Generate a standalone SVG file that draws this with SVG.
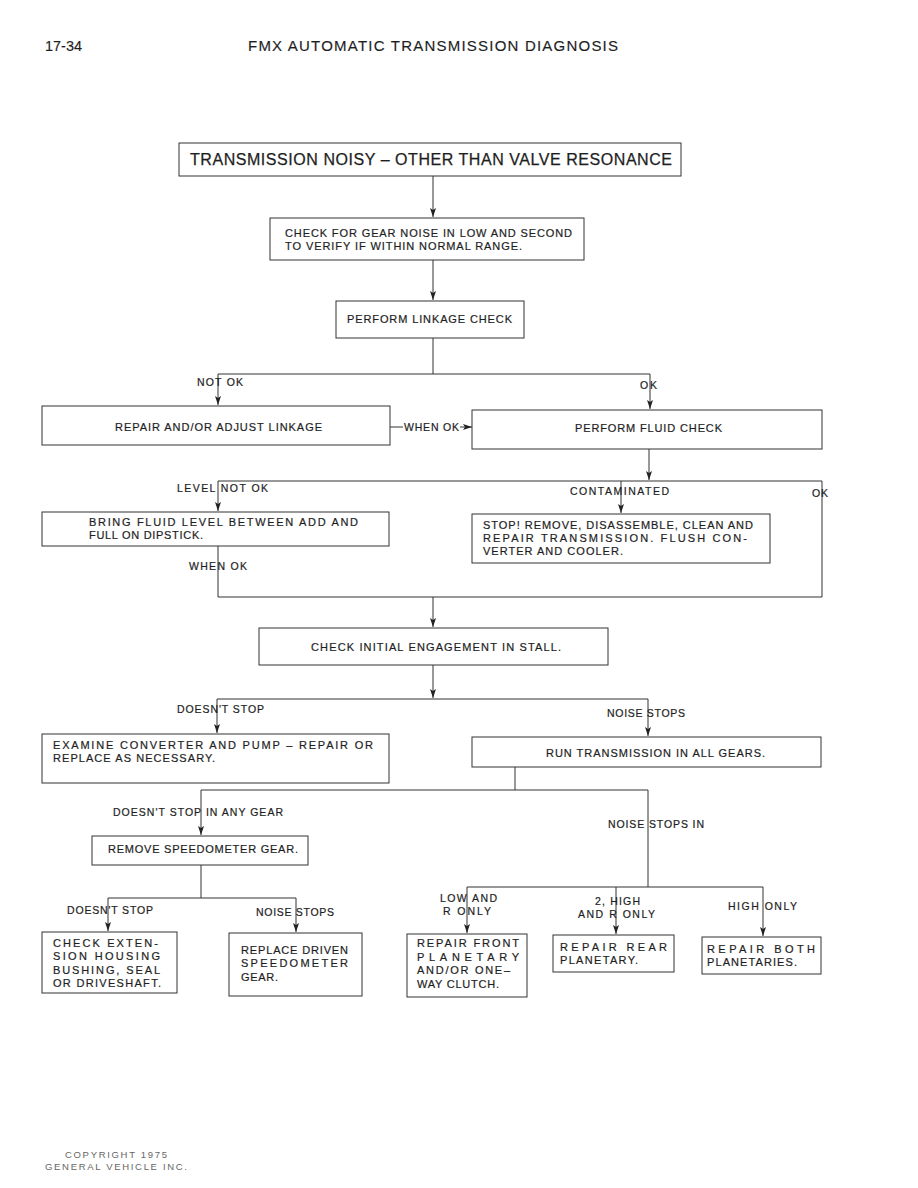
<svg xmlns="http://www.w3.org/2000/svg" width="918" height="1188" viewBox="0 0 918 1188">
<style>
text{font-family:"Liberation Sans",Arial,sans-serif;fill:#1e1e1e;stroke:#1e1e1e;stroke-width:0.2}
.hd{font-size:15px;stroke-width:0.15}
.ti{font-size:16px;stroke-width:0.25}
.bx{font-size:11px}
.lb{font-size:10.5px}
.cp{font-size:9.5px;fill:#666;stroke:none}
rect{fill:#fff;stroke:#333;stroke-width:1}
.c path,.c line{fill:none;stroke:#333;stroke-width:1}
</style>
<defs>
<marker id="ah" markerUnits="userSpaceOnUse" markerWidth="9" markerHeight="8" viewBox="0 0 9 8" refX="9" refY="4" orient="auto">
<path d="M0,1 L9,4 L0,7 L2,4 z" fill="#222"/>
</marker>
</defs>
<rect x="0" y="0" width="918" height="1188" style="stroke:none;fill:#fff"/>
<g id="header">
<text class="hd" x="45" y="51" textLength="37" lengthAdjust="spacingAndGlyphs">17-34</text>
<text class="hd" x="248" y="51" textLength="370" lengthAdjust="spacing">FMX AUTOMATIC TRANSMISSION DIAGNOSIS</text>
</g>
<g class="c" id="connectors">
<line x1="433" y1="176" x2="433" y2="217" marker-end="url(#ah)"/>
<line x1="433" y1="260" x2="433" y2="300" marker-end="url(#ah)"/>
<path d="M433,338 V374 M218,374 H650"/>
<line x1="218" y1="374" x2="218" y2="405" marker-end="url(#ah)"/>
<line x1="650" y1="374" x2="650" y2="409" marker-end="url(#ah)"/>
<line x1="390" y1="427" x2="403" y2="427"/>
<line x1="460" y1="427" x2="472" y2="427" marker-end="url(#ah)"/>
<line x1="649" y1="449" x2="649" y2="480" marker-end="url(#ah)"/>
<path d="M218,481 H822 V597 H218 V546"/>
<line x1="218" y1="481" x2="218" y2="511" marker-end="url(#ah)"/>
<line x1="621" y1="481" x2="621" y2="513" marker-end="url(#ah)"/>
<line x1="433" y1="597" x2="433" y2="627" marker-end="url(#ah)"/>
<line x1="433" y1="665" x2="433" y2="698" marker-end="url(#ah)"/>
<path d="M217,699 H648"/>
<line x1="217" y1="699" x2="217" y2="733" marker-end="url(#ah)"/>
<line x1="648" y1="699" x2="648" y2="736" marker-end="url(#ah)"/>
<path d="M515,767 V790 M201,790 H648 V887 M467,887 H763"/>
<line x1="201" y1="790" x2="201" y2="835" marker-end="url(#ah)"/>
<path d="M201,865 V898 M108,898 H296"/>
<line x1="108" y1="898" x2="108" y2="931" marker-end="url(#ah)"/>
<line x1="296" y1="898" x2="296" y2="932" marker-end="url(#ah)"/>
<line x1="467" y1="887" x2="467" y2="933" marker-end="url(#ah)"/>
<line x1="616" y1="887" x2="616" y2="934" marker-end="url(#ah)"/>
<line x1="763" y1="887" x2="763" y2="936" marker-end="url(#ah)"/>
</g>
<g id="labels">
<text class="lb" x="197" y="386" textLength="46" lengthAdjust="spacing">NOT OK</text>
<text class="lb" x="640" y="389" textLength="17" lengthAdjust="spacing">OK</text>
<text class="lb" x="404" y="431" textLength="55" lengthAdjust="spacing">WHEN OK</text>
<text class="lb" x="177" y="492" textLength="91" lengthAdjust="spacing">LEVEL NOT OK</text>
<text class="lb" x="570" y="495" textLength="99" lengthAdjust="spacing">CONTAMINATED</text>
<text class="lb" x="812" y="497" textLength="16" lengthAdjust="spacing">OK</text>
<text class="lb" x="189" y="570" textLength="58" lengthAdjust="spacing">WHEN OK</text>
<text class="lb" x="177" y="713" textLength="87" lengthAdjust="spacing">DOESN'T STOP</text>
<text class="lb" x="607" y="717" textLength="78" lengthAdjust="spacing">NOISE STOPS</text>
<text class="lb" x="113" y="816" textLength="170" lengthAdjust="spacing">DOESN'T STOP IN ANY GEAR</text>
<text class="lb" x="608" y="828" textLength="96" lengthAdjust="spacing">NOISE STOPS IN</text>
<text class="lb" x="67" y="914" textLength="86" lengthAdjust="spacing">DOESN'T STOP</text>
<text class="lb" x="256" y="916" textLength="78" lengthAdjust="spacing">NOISE STOPS</text>
<text class="lb" x="440" y="902" textLength="57" lengthAdjust="spacing">LOW AND</text>
<text class="lb" x="443" y="915" textLength="48" lengthAdjust="spacing">R ONLY</text>
<text class="lb" x="595" y="905" textLength="45" lengthAdjust="spacing">2, HIGH</text>
<text class="lb" x="578" y="918" textLength="77" lengthAdjust="spacing">AND R ONLY</text>
<text class="lb" x="728" y="910" textLength="69" lengthAdjust="spacing">HIGH ONLY</text>
</g>
<g id="n1"><rect x="179" y="143" width="502" height="33"/>
<text class="ti" x="190" y="165" textLength="482" lengthAdjust="spacing">TRANSMISSION NOISY – OTHER THAN VALVE RESONANCE</text></g>
<g id="n2"><rect x="270" y="218" width="314" height="42"/>
<text class="bx" x="285" y="237" textLength="287" lengthAdjust="spacing">CHECK FOR GEAR NOISE IN LOW AND SECOND</text>
<text class="bx" x="285" y="250" textLength="237" lengthAdjust="spacing">TO VERIFY IF WITHIN NORMAL RANGE.</text></g>
<g id="n3"><rect x="336" y="301" width="188" height="37"/>
<text class="bx" x="347" y="323" textLength="165" lengthAdjust="spacing">PERFORM LINKAGE CHECK</text></g>
<g id="n4"><rect x="42" y="406" width="348" height="39"/>
<text class="bx" x="115" y="431" textLength="207" lengthAdjust="spacing">REPAIR AND/OR ADJUST LINKAGE</text></g>
<g id="n5"><rect x="472" y="410" width="350" height="39"/>
<text class="bx" x="575" y="432" textLength="147" lengthAdjust="spacing">PERFORM FLUID CHECK</text></g>
<g id="n6"><rect x="42" y="512" width="347" height="34"/>
<text class="bx" x="89" y="526" textLength="269" lengthAdjust="spacing">BRING FLUID LEVEL BETWEEN ADD AND</text>
<text class="bx" x="89" y="539" textLength="114" lengthAdjust="spacing">FULL ON DIPSTICK.</text></g>
<g id="n7"><rect x="472" y="514" width="298" height="49"/>
<text class="bx" x="483" y="529" textLength="270" lengthAdjust="spacing">STOP! REMOVE, DISASSEMBLE, CLEAN AND</text>
<text class="bx" x="483" y="542" textLength="264" lengthAdjust="spacing">REPAIR TRANSMISSION. FLUSH CON-</text>
<text class="bx" x="483" y="555" textLength="140" lengthAdjust="spacing">VERTER AND COOLER.</text></g>
<g id="n8"><rect x="259" y="628" width="349" height="37"/>
<text class="bx" x="311" y="651" textLength="250" lengthAdjust="spacing">CHECK INITIAL ENGAGEMENT IN STALL.</text></g>
<g id="n9"><rect x="42" y="734" width="347" height="49"/>
<text class="bx" x="53" y="749" textLength="320" lengthAdjust="spacing">EXAMINE CONVERTER AND PUMP – REPAIR OR</text>
<text class="bx" x="53" y="762" textLength="162" lengthAdjust="spacing">REPLACE AS NECESSARY.</text></g>
<g id="n10"><rect x="472" y="737" width="349" height="30"/>
<text class="bx" x="546" y="757" textLength="219" lengthAdjust="spacing">RUN TRANSMISSION IN ALL GEARS.</text></g>
<g id="n11"><rect x="92" y="836" width="216" height="29"/>
<text class="bx" x="108" y="853" textLength="190" lengthAdjust="spacing">REMOVE SPEEDOMETER GEAR.</text></g>
<g id="n12"><rect x="42" y="932" width="135" height="61"/>
<text class="bx" x="53" y="947" textLength="105" lengthAdjust="spacing">CHECK EXTEN-</text>
<text class="bx" x="53" y="960" textLength="107" lengthAdjust="spacing">SION HOUSING</text>
<text class="bx" x="53" y="974" textLength="107" lengthAdjust="spacing">BUSHING, SEAL</text>
<text class="bx" x="53" y="987" textLength="108" lengthAdjust="spacing">OR DRIVESHAFT.</text></g>
<g id="n13"><rect x="229" y="933" width="133" height="63"/>
<text class="bx" x="241" y="954" textLength="107" lengthAdjust="spacing">REPLACE DRIVEN</text>
<text class="bx" x="241" y="967" textLength="107" lengthAdjust="spacing">SPEEDOMETER</text>
<text class="bx" x="241" y="981" textLength="37" lengthAdjust="spacing">GEAR.</text></g>
<g id="n14"><rect x="407" y="934" width="120" height="63"/>
<text class="bx" x="417" y="947" textLength="102" lengthAdjust="spacing">REPAIR FRONT</text>
<text class="bx" x="417" y="961" textLength="102" lengthAdjust="spacing">PLANETARY</text>
<text class="bx" x="417" y="974" textLength="93" lengthAdjust="spacing">AND/OR ONE–</text>
<text class="bx" x="417" y="988" textLength="82" lengthAdjust="spacing">WAY CLUTCH.</text></g>
<g id="n15"><rect x="553" y="935" width="121" height="37"/>
<text class="bx" x="560" y="951" textLength="107" lengthAdjust="spacing">REPAIR REAR</text>
<text class="bx" x="560" y="964" textLength="78" lengthAdjust="spacing">PLANETARY.</text></g>
<g id="n16"><rect x="702" y="937" width="119" height="37"/>
<text class="bx" x="707" y="953" textLength="108" lengthAdjust="spacing">REPAIR BOTH</text>
<text class="bx" x="707" y="966" textLength="90" lengthAdjust="spacing">PLANETARIES.</text></g>
<g id="footer">
<text class="cp" x="65" y="1158" textLength="102" lengthAdjust="spacing">COPYRIGHT 1975</text>
<text class="cp" x="45" y="1170" textLength="142" lengthAdjust="spacing">GENERAL VEHICLE INC.</text>
</g>
</svg>
